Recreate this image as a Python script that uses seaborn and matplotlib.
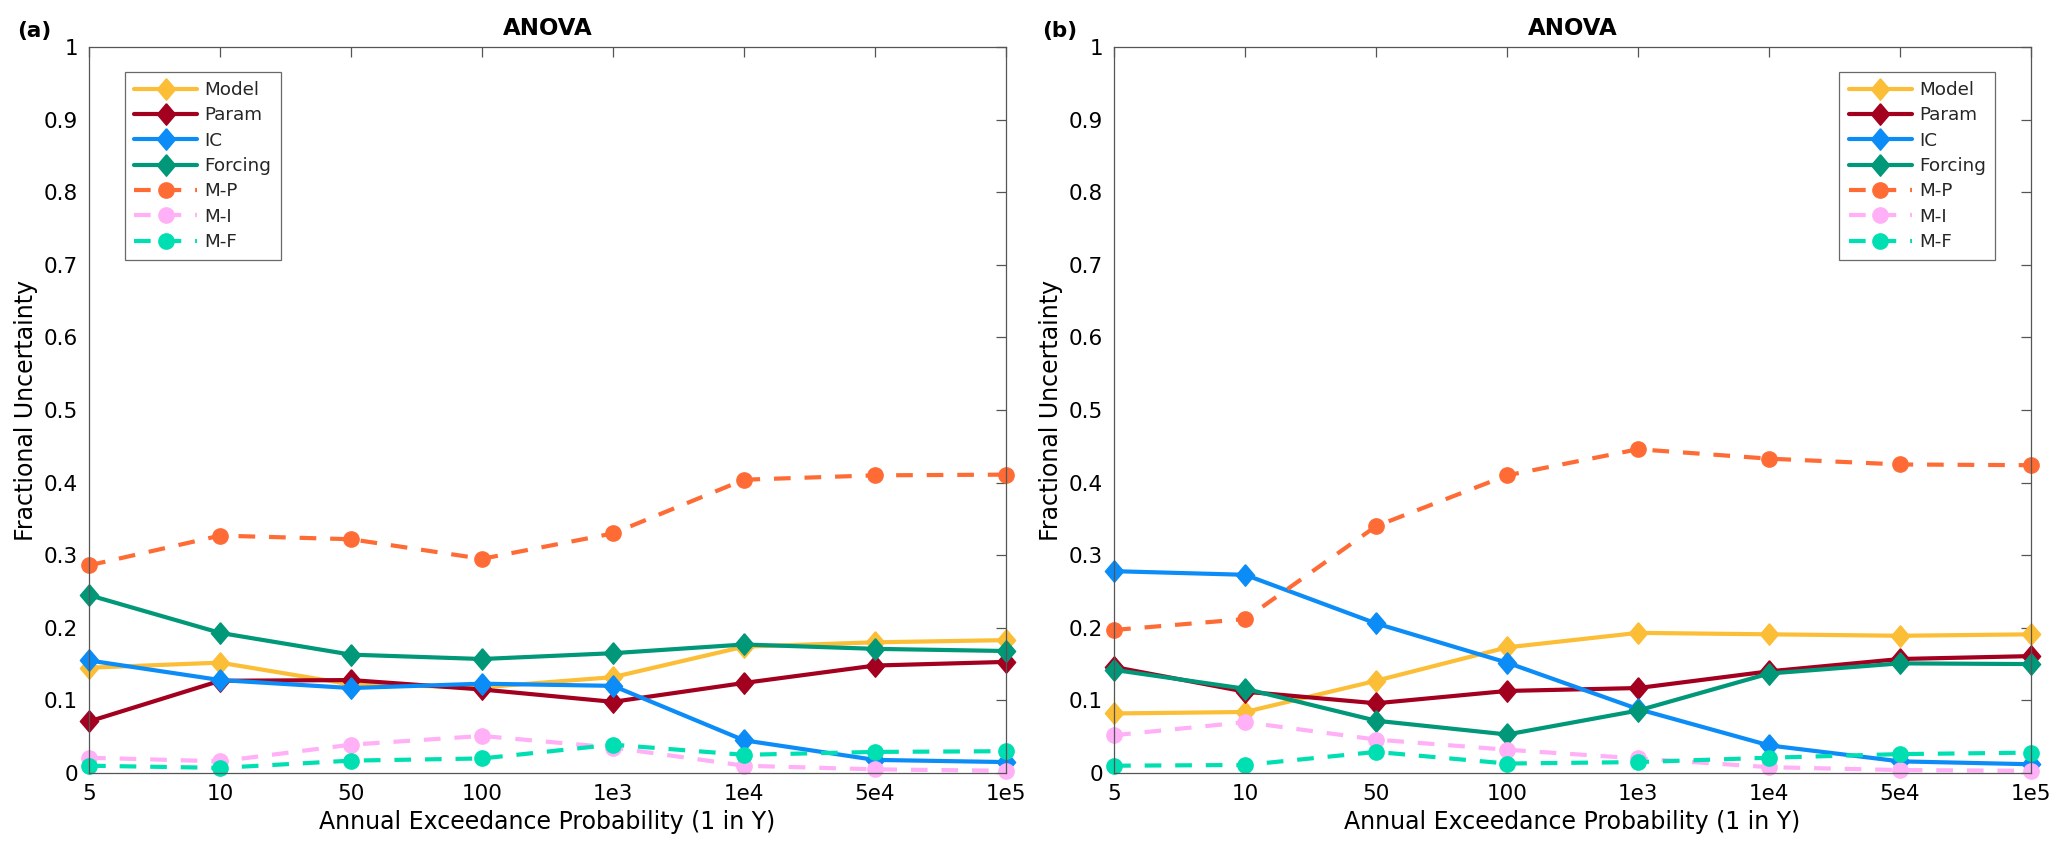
import numpy as np
import pandas as pd
import seaborn as sns
import matplotlib
matplotlib.use("Agg")
import matplotlib.pyplot as plt

# return periods (categorical, equally spaced)
periods = ['5', '10', '50', '100', '1e3', '1e4', '5e4', '1e5']
sources = ['Model', 'Param', 'IC', 'Forcing', 'M-P', 'M-I', 'M-F']

# panel (a)
a_model = [0.145, 0.152, 0.122, 0.118, 0.132, 0.174, 0.180, 0.183]
a_param = [0.071, 0.127, 0.128, 0.115, 0.098, 0.124, 0.148, 0.153]
a_ic = [0.155, 0.128, 0.117, 0.123, 0.120, 0.045, 0.018, 0.015]
a_forcing = [0.245, 0.193, 0.163, 0.157, 0.165, 0.177, 0.171, 0.168]
a_mp = [0.286, 0.327, 0.322, 0.295, 0.330, 0.404, 0.410, 0.411]
a_mi = [0.021, 0.016, 0.039, 0.051, 0.035, 0.010, 0.005, 0.003]
a_mf = [0.010, 0.007, 0.017, 0.020, 0.039, 0.025, 0.029, 0.030]

# panel (b)
b_model = [0.082, 0.084, 0.127, 0.173, 0.193, 0.191, 0.189, 0.191]
b_param = [0.146, 0.112, 0.096, 0.113, 0.117, 0.140, 0.157, 0.161]
b_ic = [0.278, 0.273, 0.206, 0.152, 0.088, 0.038, 0.016, 0.012]
b_forcing = [0.142, 0.116, 0.072, 0.053, 0.086, 0.137, 0.151, 0.150]
b_mp = [0.197, 0.212, 0.340, 0.410, 0.446, 0.433, 0.425, 0.424]
b_mi = [0.052, 0.070, 0.046, 0.032, 0.020, 0.008, 0.004, 0.003]
b_mf = [0.010, 0.011, 0.029, 0.013, 0.015, 0.021, 0.026, 0.028]

colors = ['#FBBE36', '#A3001F', '#0C8CF7', '#009879', '#FF6B35', '#FFB0F7', '#00DFB1']
diamond = [(0, 1), (0.85, 0), (0, -1), (-0.85, 0), (0, 1)]
markers = [diamond, diamond, diamond, diamond, 'o', 'o', 'o']
styles = ['-', '-', '-', '-', '--', '--', '--']

sns.set_theme(style='white')
plt.rcParams['font.family'] = ['DejaVu Sans']
plt.rcParams['lines.scale_dashes'] = False


def long_df(vals):
    rows = []
    for s, v in zip(sources, vals):
        for i, y in enumerate(v):
            rows.append({'pos': i, 'Source': s, 'val': y})
    return pd.DataFrame(rows)


df_a = long_df([a_model, a_param, a_ic, a_forcing, a_mp, a_mi, a_mf])
df_b = long_df([b_model, b_param, b_ic, b_forcing, b_mp, b_mi, b_mf])

fig = plt.figure(figsize=(20.67, 8.56), dpi=100)
ax1 = fig.add_axes([0.0431, 0.097, 0.4436, 0.848])
ax2 = fig.add_axes([0.5390, 0.097, 0.4436, 0.848])

panels = [(ax1, df_a, 'upper left', (0.039, 0.966), '(a)'),
          (ax2, df_b, 'upper right', (0.961, 0.966), '(b)')]

for ax, df, loc, anchor, lab in panels:
    for s, c, m, ls in zip(sources, colors, markers, styles):
        sub = df[df['Source'] == s]
        ms = 15.5 if ls == '-' else 11
        sns.lineplot(data=sub, x='pos', y='val', ax=ax, color=c, marker=m,
                     linestyle=ls, linewidth=3.0, markersize=ms, markeredgewidth=1,
                     markeredgecolor=c, label=s, clip_on=False)
        if ls == '--':
            ax.lines[-1].set_dashes([12, 10])
    ax.set_xlim(0, len(periods) - 1)
    ax.set_ylim(0, 1)
    ax.set_xticks(range(len(periods)))
    ax.set_xticklabels(periods)
    ax.set_yticks(np.arange(0, 1.01, 0.1))
    ax.set_yticklabels(['0'] + ['%.1f' % t for t in np.arange(0.1, 0.95, 0.1)] + ['1'])
    ax.tick_params(axis='both', direction='in', length=7, width=0.9, labelsize=15.5,
                   top=True, right=True, colors='#555555', labelcolor='black', pad=8)
    for sp in ax.spines.values():
        sp.set_color('#555555')
        sp.set_linewidth(0.9)
    ax.set_xlabel('Annual Exceedance Probability (1 in Y)', fontsize=17, color='black')
    ax.set_ylabel('Fractional Uncertainty', fontsize=17, color='black')
    ax.set_title('ANOVA', fontsize=16.5, fontweight='bold', pad=9, color='black')
    leg = ax.legend(loc=loc, bbox_to_anchor=anchor, borderaxespad=0, fontsize=13.2,
                    handlelength=3.45, frameon=True, fancybox=False, labelspacing=0.4,
                    handletextpad=0.4, borderpad=0.5)
    leg.get_frame().set_edgecolor('#444444')
    leg.get_frame().set_linewidth(0.9)
    pos = ax.get_position()
    fig.text(pos.x0 - 0.0348, 0.964, lab, fontsize=15.5, fontweight='bold',
             ha='left', va='center', color='black')

fig.savefig('out.png', dpi=100)
